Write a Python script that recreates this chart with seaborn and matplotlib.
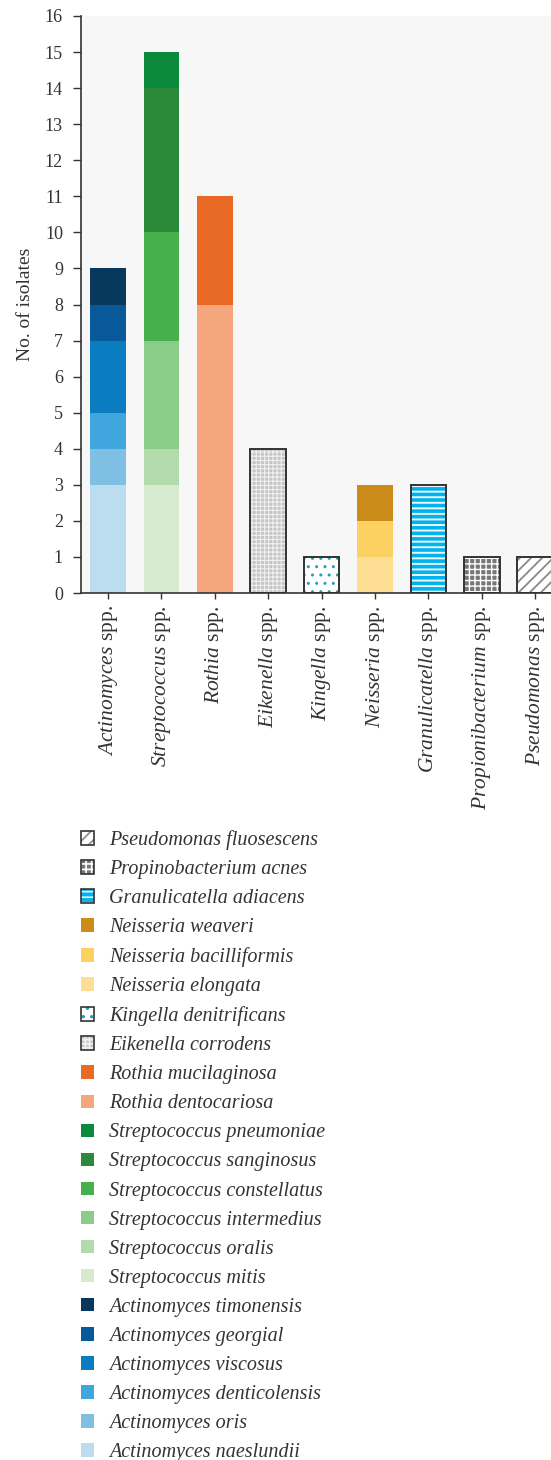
import pandas as pd
import matplotlib.pyplot as plt
import seaborn as sns
from matplotlib.patches import Patch
from matplotlib.legend_handler import HandlerTuple

genera = ['Actinomyces', 'Streptococcus', 'Rothia', 'Eikenella', 'Kingella',
          'Neisseria', 'Granulicatella', 'Propionibacterium', 'Pseudomonas']

# species listed bottom-up within each genus
species = ['Actinomyces naeslundii', 'Actinomyces oris', 'Actinomyces denticolensis',
           'Actinomyces viscosus', 'Actinomyces georgial', 'Actinomyces timonensis',
           'Streptococcus mitis', 'Streptococcus oralis', 'Streptococcus intermedius',
           'Streptococcus constellatus', 'Streptococcus sanginosus', 'Streptococcus pneumoniae',
           'Rothia dentocariosa', 'Rothia mucilaginosa',
           'Eikenella corrodens', 'Kingella denitrificans',
           'Neisseria elongata', 'Neisseria bacilliformis', 'Neisseria weaveri',
           'Granulicatella adiacens', 'Propinobacterium acnes', 'Pseudomonas fluosescens']
species_genus = ['Actinomyces'] * 6 + ['Streptococcus'] * 6 + ['Rothia'] * 2 + \
    ['Eikenella', 'Kingella'] + ['Neisseria'] * 3 + ['Granulicatella', 'Propionibacterium', 'Pseudomonas']
counts = [3, 1, 1, 2, 1, 1,
          3, 1, 3, 3, 4, 1,
          8, 3,
          4, 1,
          1, 1, 1,
          3, 1, 1]

# face colour, hatch colour, hatch pattern
styles = {
    'Actinomyces naeslundii': ('#bcdcef', None, None),
    'Actinomyces oris': ('#7fbfe4', None, None),
    'Actinomyces denticolensis': ('#3fa7dd', None, None),
    'Actinomyces viscosus': ('#0a7cc0', None, None),
    'Actinomyces georgial': ('#08599a', None, None),
    'Actinomyces timonensis': ('#08395c', None, None),
    'Streptococcus mitis': ('#d5eacf', None, None),
    'Streptococcus oralis': ('#b1dbaa', None, None),
    'Streptococcus intermedius': ('#8bcd88', None, None),
    'Streptococcus constellatus': ('#46b04b', None, None),
    'Streptococcus sanginosus': ('#2b8a3a', None, None),
    'Streptococcus pneumoniae': ('#0c8a3c', None, None),
    'Rothia dentocariosa': ('#f6a67c', None, None),
    'Rothia mucilaginosa': ('#e86a24', None, None),
    'Eikenella corrodens': ('#c6c6c6', '#f0f0f0', '++++'),
    'Kingella denitrificans': ('#ffffff', '#2b9cb5', '..'),
    'Neisseria elongata': ('#fede92', None, None),
    'Neisseria bacilliformis': ('#fdd062', None, None),
    'Neisseria weaveri': ('#cb8c1a', None, None),
    'Granulicatella adiacens': ('#00b3ee', '#eef6fa', '---'),
    'Propinobacterium acnes': ('#777777', '#ffffff', '+++'),
    'Pseudomonas fluosescens': ('#ffffff', '#8a8a8a', '///'),
}
hatch_lw = {'++++': 0.8, '..': 1.0, '---': 1.4, '+++': 1.0, '///': 1.3}

df = pd.DataFrame({'genus': species_genus, 'species': species, 'count': counts})
df['cum'] = df.groupby('genus')['count'].cumsum()

plt.rcParams['font.family'] = 'Liberation Serif'
plt.rcParams['mathtext.fontset'] = 'custom'
plt.rcParams['mathtext.rm'] = 'Liberation Serif'
plt.rcParams['mathtext.it'] = 'Liberation Serif:italic'
plt.rcParams['hatch.linewidth'] = 1.2

fig = plt.figure(figsize=(5.51, 14.6), dpi=100)
ax = fig.add_axes([81 / 551, 1 - 593 / 1460, 1 - 81 / 551, 577 / 1460])
ax.set_facecolor('#f7f7f7')

dark = '#333333'
w = 0.67
# draw top segments first so lower ones paint over them
for _, row in df.iloc[::-1].iterrows():
    fc, hc, hatch = styles[row['species']]
    n0 = len(ax.patches)
    sns.barplot(x=[row['genus']], y=[row['cum']], order=genera, width=w,
                errorbar=None, ax=ax, color=fc)
    for p in ax.patches[n0:]:
        p.set_facecolor(fc)
        p.set_linewidth(0)
        if hatch:
            p.set_edgecolor(hc)
            p.set_hatch(hatch)
            if hasattr(p, 'set_hatch_linewidth'):
                p.set_hatch_linewidth(hatch_lw[hatch])
    if hatch:
        n0 = len(ax.patches)
        sns.barplot(x=[row['genus']], y=[row['cum']], order=genera, width=w,
                    errorbar=None, ax=ax, fill=False)
        for p in ax.patches[n0:]:
            p.set_facecolor('none')
            p.set_edgecolor(dark)
            p.set_linewidth(1.4)

ax.set_xlim(-0.506, 8.296)
ax.set_ylim(0, 16)
ax.set_yticks(range(0, 17))
ax.set_xticks(range(len(genera)))
ax.set_xticklabels([f'$\\it{{{g}}}$ spp.' for g in genera], rotation=90, fontsize=15.5, color=dark)
ax.tick_params(axis='y', labelsize=13, colors=dark, length=6, width=1, pad=7)
ax.tick_params(axis='x', length=4, width=1, color=dark, pad=5)
ax.set_xlabel('')
ax.set_ylabel('No. of isolates', fontsize=14, color=dark, labelpad=8)
for s in ['top', 'right']:
    ax.spines[s].set_visible(False)
for s in ['left', 'bottom']:
    ax.spines[s].set_color(dark)
    ax.spines[s].set_linewidth(1.2)

# legend, reversed order
handles, labels = [], []
for sp in species[::-1]:
    fc, hc, hatch = styles[sp]
    if hatch:
        h1 = Patch(facecolor=fc, edgecolor=hc, hatch=hatch, linewidth=0)
        h2 = Patch(facecolor='none', edgecolor=dark, linewidth=1.2)
        handles.append((h1, h2))
    else:
        handles.append(Patch(facecolor=fc, edgecolor='none'))
    labels.append(sp)

fig.legend(handles, labels, loc='upper left', bbox_to_anchor=(81 / 551, 1 - 830 / 1460),
           frameon=False, borderpad=0, borderaxespad=0,
           prop={'style': 'italic', 'size': 14.5}, labelcolor=dark,
           handlelength=0.65, handleheight=0.65, handletextpad=0.75, labelspacing=0.5,
           handler_map={tuple: HandlerTuple()})

fig.savefig('out.png', dpi=100)
